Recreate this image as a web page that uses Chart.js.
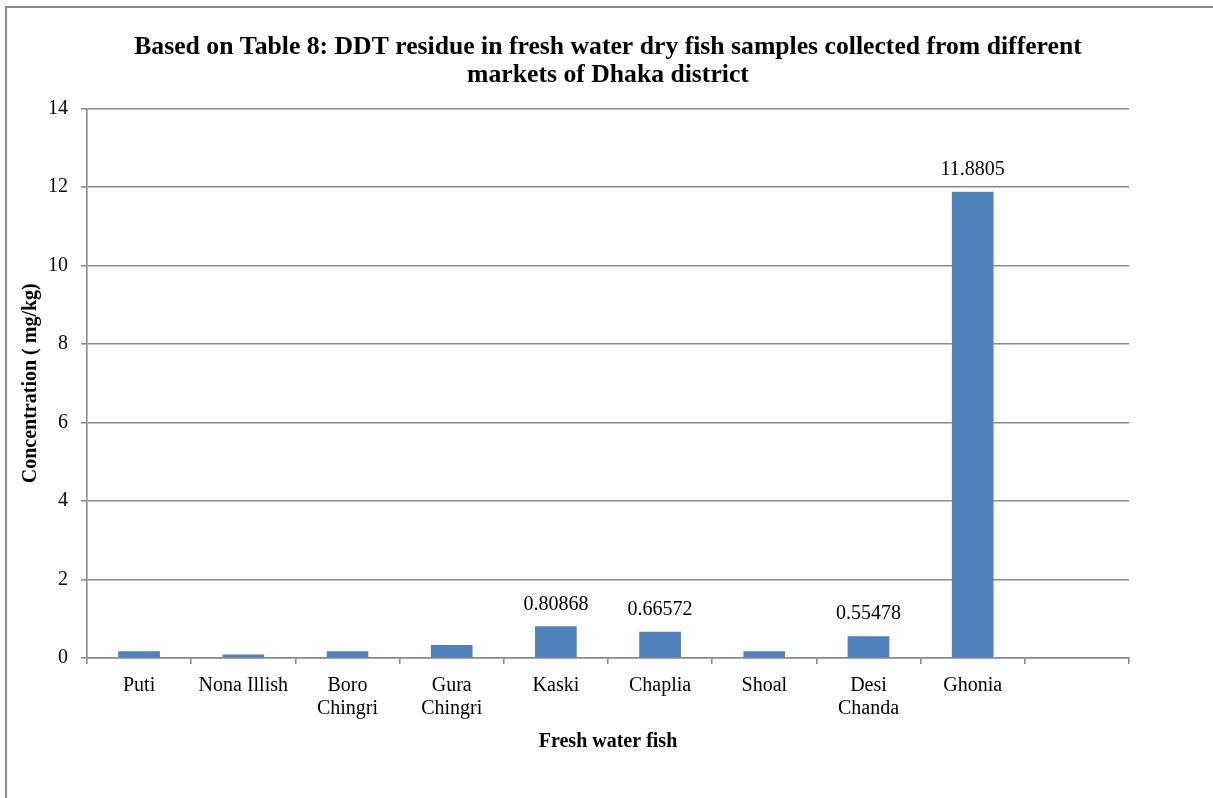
<!DOCTYPE html>
<html>
<head>
<meta charset="utf-8">
<title>DDT residue in dry fish</title>
<script src="https://cdn.jsdelivr.net/npm/chart.js@4.4.1/dist/chart.umd.min.js"></script>
<style>
  html, body { margin: 0; padding: 0; background: #fff; }
  #grafico { display: block; }
</style>
</head>
<body>
<canvas id="grafico" width="1213" height="798"></canvas>
<script>
// Datos del gráfico
const categorias = ['Puti', 'Nona Illish', ['Boro', 'Chingri'], ['Gura', 'Chingri'], 'Kaski', 'Chaplia', 'Shoal', ['Desi', 'Chanda'], 'Ghonia', ''];
const residuoDDT = [0.17, 0.09, 0.17, 0.33, 0.80868, 0.66572, 0.17, 0.55478, 11.8805, null];
// solo algunas barras llevan su valor escrito encima
const conEtiqueta = [false, false, false, false, true, true, false, true, true, false];
const ejeYMax = 14;
const ejeYPaso = 2;

const gris = '#8a8a8a';
const fuente = 'Liberation Serif, Times New Roman, serif';

// Marco exterior (solo arriba e izquierda)
const marco = {
    id: 'marco',
    beforeDraw(chart) {
        const ctx = chart.ctx;
        ctx.save();
        ctx.strokeStyle = gris;
        ctx.lineWidth = 2;
        ctx.beginPath();
        ctx.moveTo(6, 798);
        ctx.lineTo(6, 7);
        ctx.lineTo(1213, 7);
        ctx.stroke();
        ctx.restore();
    }
};

// Valores sobre las barras
const etiquetas = {
    id: 'etiquetas',
    afterDatasetsDraw(chart) {
        const ctx = chart.ctx;
        const meta = chart.getDatasetMeta(0);
        ctx.save();
        ctx.font = '20px ' + fuente;
        ctx.fillStyle = '#000';
        ctx.textAlign = 'center';
        ctx.textBaseline = 'middle';
        meta.data.forEach(function (barra, i) {
            if (!conEtiqueta[i]) return;
            ctx.fillText(String(residuoDDT[i]), barra.x, barra.y - 22);
        });
        ctx.restore();
    }
};

const ctx = document.getElementById('grafico').getContext('2d');
const grafico = new Chart(ctx, {
    type: 'bar',
    data: {
        labels: categorias,
        datasets: [{
            data: residuoDDT,
            backgroundColor: '#4F81BD',
            borderWidth: 0,
            categoryPercentage: 1,
            barPercentage: 0.4
        }]
    },
    options: {
        responsive: false,
        animation: false,
        layout: { padding: { top: 10, left: 10, right: 84, bottom: 20 } },
        plugins: {
            legend: { display: false },
            tooltip: { enabled: false },
            title: {
                display: true,
                fullSize: false,
                text: ['Based on Table 8: DDT residue in fresh water dry fish samples collected from different', 'markets of Dhaka district'],
                color: '#000',
                font: { family: fuente, size: 25.7, weight: 'bold', lineHeight: 1.1 },
                padding: { top: 23, bottom: 19 }
            }
        },
        scales: {
            x: {
                afterFit(scale) { scale.height = 120; },
                grid: {
                    offset: true,
                    drawOnChartArea: false,
                    drawTicks: true,
                    tickLength: 6,
                    color: gris,
                    lineWidth: 1.6
                },
                border: { color: gris, width: 1.6 },
                ticks: {
                    color: '#000',
                    padding: 10,
                    maxRotation: 0,
                    autoSkip: false,
                    font: { family: fuente, size: 20, lineHeight: 1.15 }
                },
                title: {
                    display: true,
                    text: 'Fresh water fish',
                    color: '#000',
                    font: { family: fuente, size: 20, weight: 'bold' },
                    padding: { top: 0, bottom: 24 }
                }
            },
            y: {
                min: 0,
                max: ejeYMax,
                afterFit(scale) { scale.width = 77; },
                grid: {
                    color: gris,
                    lineWidth: 1.6,
                    drawTicks: true,
                    tickLength: 6
                },
                border: { color: gris, width: 1.6 },
                ticks: {
                    stepSize: ejeYPaso,
                    color: '#000',
                    padding: 13,
                    font: { family: fuente, size: 20 }
                },
                title: {
                    display: true,
                    text: 'Concentration ( mg/kg)',
                    color: '#000',
                    font: { family: fuente, size: 20, weight: 'bold' },
                    padding: { top: 9, bottom: 0 }
                }
            }
        }
    },
    plugins: [marco, etiquetas]
});
</script>
</body>
</html>
